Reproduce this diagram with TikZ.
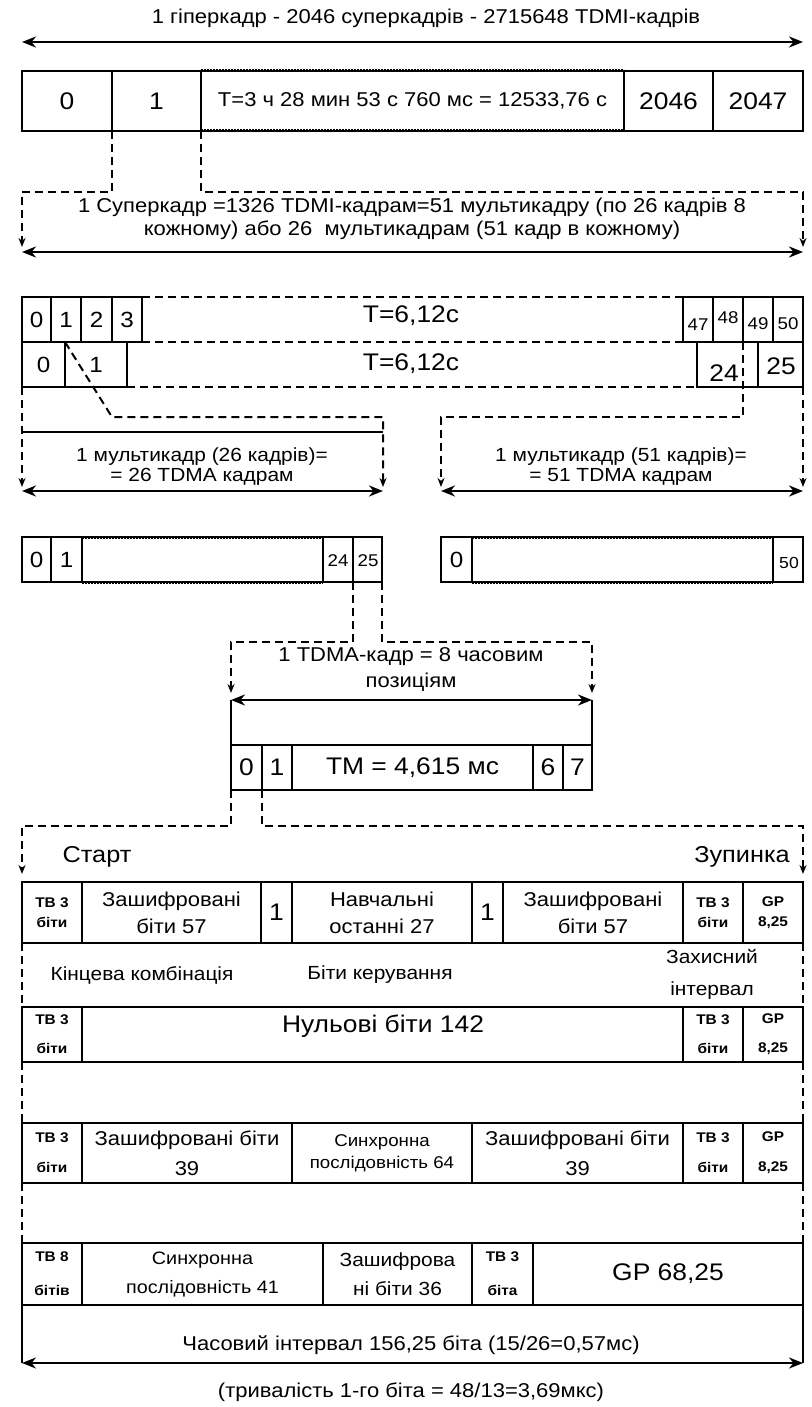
\documentclass[tikz,border=0pt]{standalone}
\usepackage{fontspec}
\setmainfont{Liberation Sans}[FakeStretch=1.1]
\usetikzlibrary{arrows.meta}
\newcommand\fsz[2]{\fontsize{#1}{#2}\selectfont}
\newcommand\cellnode[7][]{%
  \node[cell,minimum width={(#5-#3)*1pt},minimum height={(#6-#4)*1pt},#1] (#2) at ({(#3+#5)/2},{(#4+#6)/2}) {#7};}
\tikzset{
  cell/.style={draw, line width=1.5pt, inner sep=0pt, outer sep=0pt, align=center},
  txt/.style={inner sep=0pt, outer sep=0pt, align=center},
  lw/.style={line width=1.5pt},
  dline/.style={line width=2pt, dash pattern=on 8pt off 5pt},
  darr/.style={dline, -{Stealth[length=9pt,width=7pt]}},
  dotline/.style={line width=3pt, dash pattern=on 1.6pt off 1.4pt},
  biarrow/.style={line width=2.4pt, {Stealth[length=14pt,width=11pt]}-{Stealth[length=14pt,width=11pt]}},
  fb/.style={font=\fsz{20}{24}},
  fbig/.style={font=\fsz{24}{28}},
  fsm/.style={font=\fsz{14}{20}\bfseries},
}
\begin{document}
\begin{tikzpicture}[x=1pt,y=-1pt]
\useasboundingbox (0,0) rectangle (811,1407);
\fill[white] (0,0) rectangle (811,1407);

% ---------- hyperframe ----------
\node[txt,fb] (title) at (426,18) {1 гіперкадр - 2046 суперкадрів - 2715648 TDMI-кадрів};
\coordinate (a1l) at (22,42); \coordinate (a1r) at (803,42);
\draw[biarrow] (a1l) -- (a1r);

\cellnode[fbig]{h0}{22}{71}{112}{131}{0}
\cellnode[fbig]{h1}{112}{71}{201}{131}{1}
\cellnode[fb]{hT}{201}{71}{624}{131}{T=3 ч 28 мин 53 с 760 мс = 12533,76 с}
\cellnode[fbig]{h2046}{624}{71}{713}{131}{2046}
\cellnode[fbig]{h2047}{713}{71}{803}{131}{2047}
\draw[dotline] (hT.north west) -- (hT.north east);
\draw[dotline] (hT.south west) -- (hT.south east);

% ---------- superframe connectors ----------
\coordinate (sbl) at (22,192); \coordinate (sbr) at (803,192);
\coordinate (sal) at (22,247); \coordinate (sar) at (803,247);
\draw[darr] (h1.south west) |- (sbl) -- (sal);
\draw[darr] (hT.south west) |- (sbr) -- (sar);
\node[txt,font=\fsz{20}{23}] (stext) at (412,219) {1 Суперкадр =1326 TDMI-кадрам=51 мультикадру (по 26 кадрів 8\\кожному) або 26\ \ мультикадрам (51 кадр в кожному)};
\coordinate (a2l) at (22,252); \coordinate (a2r) at (803,252);
\draw[biarrow] (a2l) -- (a2r);

% ---------- superframe rows ----------
\cellnode[font=\fsz{22}{26}]{s0}{22}{297}{51}{342}{0}
\cellnode[font=\fsz{22}{26}]{s1}{51}{297}{81}{342}{1}
\cellnode[font=\fsz{22}{26}]{s2}{81}{297}{112}{342}{2}
\cellnode[font=\fsz{22}{26}]{s3}{112}{297}{142}{342}{3}
\cellnode{s47}{683}{297}{713}{342}{}
\cellnode{s48}{713}{297}{743}{342}{}
\cellnode{s49}{743}{297}{773}{342}{}
\cellnode{s50}{773}{297}{803}{342}{}
\node[txt,font=\fsz{17}{20}] (l47) at (698,325) {47};
\node[txt,font=\fsz{17}{20}] (l48) at (728,318) {48};
\node[txt,font=\fsz{17}{20}] (l49) at (758,324) {49};
\node[txt,font=\fsz{17}{20}] (l50) at (788,324) {50};
\draw[dline] (s3.north east) -- (s47.north west);
\draw[dline] (s3.south east) -- (s47.south west);
\node[txt,fbig] (sT1) at (411,316) {T=6,12с};

\cellnode[font=\fsz{22}{26}]{r0}{22}{342}{65}{387}{0}
\cellnode[font=\fsz{22}{26}]{r1}{65}{342}{127}{387}{1}
\cellnode{r24}{697}{342}{758}{387}{}
\cellnode{r25}{758}{342}{803}{387}{}
\node[txt,fbig] (l24) at (724,373) {24};
\node[txt,fbig] (l25) at (781,366) {25};
\draw[dline] (r1.south east) -- (r24.south west);
\node[txt,fbig] (sT2) at (411,364) {T=6,12с};

% ---------- multiframe connectors ----------
\coordinate (d1) at (112,417); \coordinate (d2) at (383,417);
\coordinate (d2e) at (383,487);
\coordinate (d3) at (743,417); \coordinate (d4) at (441,417);
\coordinate (d4e) at (441,487);
\coordinate (dle) at (22,487); \coordinate (dre) at (803,487);
\draw[darr] (r1.north west) -- (d1) -- (d2) -- (d2e);
\draw[darr] (s49.south west) -- (d3) -- (d4) -- (d4e);
\draw[darr] (r0.south west) -- (dle);
\draw[darr] (r25.south east) -- (dre);
\coordinate (bxl) at (22,432); \coordinate (bxr) at (383,432);
\draw[lw] (bxl) -- (bxr);
\node[txt,font=\fsz{19}{20}] (mtl) at (202,467) {1 мультикадр (26 кадрів)=\\= 26 TDMA кадрам};
\node[txt,font=\fsz{19}{20}] (mtr) at (621,467) {1 мультикадр (51 кадрів)=\\= 51 TDMA кадрам};
\coordinate (a3l) at (22,491); \coordinate (a3r) at (383,491);
\coordinate (a4l) at (441,491); \coordinate (a4r) at (803,491);
\draw[biarrow] (a3l) -- (a3r);
\draw[biarrow] (a4l) -- (a4r);

% ---------- multiframe rows ----------
\cellnode[font=\fsz{22}{26}]{m0}{22}{537}{51}{582}{0}
\cellnode[font=\fsz{22}{26}]{m1}{51}{537}{82}{582}{1}
\cellnode{mmid}{82}{537}{323}{582}{}
\cellnode{m24}{323}{537}{353}{582}{}
\cellnode{m25}{353}{537}{382}{582}{}
\node[txt,font=\fsz{17}{20}] (lm24) at (338,561) {24};
\node[txt,font=\fsz{17}{20}] (lm25) at (368,561) {25};
\draw[dotline] (mmid.north west) -- (mmid.north east);
\draw[dotline] (mmid.south west) -- (mmid.south east);

\cellnode[font=\fsz{22}{26}]{n0}{441}{537}{472}{582}{0}
\cellnode{nmid}{472}{537}{773}{582}{}
\cellnode{n50}{773}{537}{803}{582}{}
\node[txt,font=\fsz{16}{20}] (ln50) at (789,563) {50};
\draw[dotline] (nmid.north west) -- (nmid.north east);
\draw[dotline] (nmid.south west) -- (nmid.south east);

% ---------- TDMA connectors ----------
\coordinate (e1) at (353,642); \coordinate (e2) at (231,642);
\coordinate (e2e) at (231,693);
\coordinate (e3) at (382,642); \coordinate (e4) at (592,642);
\coordinate (e4e) at (592,693);
\draw[darr] (m24.south east) -- (e1) -- (e2) -- (e2e);
\draw[darr] (m25.south east) -- (e3) -- (e4) -- (e4e);
\node[txt,font=\fsz{20}{26}] (ttext) at (411,670) {1 TDMA-кадр = 8 часовим\\позиціям};
\coordinate (a5l) at (231,700); \coordinate (a5r) at (592,700);
\draw[biarrow] (a5l) -- (a5r);

% ---------- TDMA row ----------
\cellnode[fbig]{t0}{231}{745}{262}{790}{0}
\cellnode[fbig]{t1}{262}{745}{292}{790}{1}
\cellnode[fbig]{tTM}{292}{745}{533}{790}{TM = 4,615 мс}
\cellnode[fbig]{t6}{533}{745}{563}{790}{6}
\cellnode[fbig]{t7}{563}{745}{592}{790}{7}
\draw[lw] (a5l) -- (t0.north west);
\draw[lw] (a5r) -- (t7.north east);

% ---------- burst connectors ----------
\coordinate (f1) at (231,826); \coordinate (f2) at (22,826);
\coordinate (f2e) at (22,874);
\coordinate (f3) at (262,826); \coordinate (f4) at (803,826);
\coordinate (f4e) at (803,874);
\draw[darr] (t0.south west) -- (f1) -- (f2) -- (f2e);
\draw[darr] (t0.south east) -- (f3) -- (f4) -- (f4e);
\node[txt,font=\fsz{23}{26}] (start) at (97,857) {Старт};
\node[txt,font=\fsz{23}{26}] (stop) at (742,857) {Зупинка};

% ---------- burst 1 ----------
\cellnode[fsm]{b1a}{22}{882}{82}{943}{ТВ 3\\біти}
\cellnode[font=\fsz{20}{27}]{b1b}{82}{882}{261}{943}{Зашифровані\\біти 57}
\cellnode[fbig]{b1c}{261}{882}{292}{943}{1}
\cellnode[font=\fsz{20}{27}]{b1d}{292}{882}{472}{943}{Навчальні\\останні 27}
\cellnode[fbig]{b1e}{472}{882}{503}{943}{1}
\cellnode[font=\fsz{20}{27}]{b1f}{503}{882}{683}{943}{Зашифровані\\біти 57}
\cellnode[fsm]{b1g}{683}{882}{743}{943}{ТВ 3\\біти}
\cellnode[fsm]{b1h}{743}{882}{803}{943}{GP\\8,25}

\node[txt,font=\fsz{19}{24}] (lk) at (142,975) {Кінцева комбінація};
\node[txt,font=\fsz{19}{24}] (lbk) at (380,975) {Біти керування};
\node[txt,font=\fsz{19}{32}] (lzi) at (712,974) {Захисний\\інтервал};
\draw[dline] (b1a.south west) -- (22,1007);
\draw[dline] (b1h.south east) -- (803,1007);

% ---------- burst 2 ----------
\cellnode[font=\fsz{14}{29}\bfseries]{b2a}{22}{1007}{82}{1062}{ТВ 3\\біти}
\cellnode[fbig]{b2b}{82}{1007}{683}{1062}{}
\node[txt,fbig] (l142) at (383,1026) {Нульові біти 142};
\cellnode[font=\fsz{14}{29}\bfseries]{b2g}{683}{1007}{743}{1062}{ТВ 3\\біти}
\cellnode[font=\fsz{14}{29}\bfseries]{b2h}{743}{1007}{803}{1062}{GP\\8,25}
\draw[dline] (b2a.south west) -- (22,1123);
\draw[dline] (b2h.south east) -- (803,1123);

% ---------- burst 3 ----------
\cellnode[font=\fsz{14}{30}\bfseries]{b3a}{22}{1123}{82}{1183}{ТВ 3\\біти}
\cellnode[font=\fsz{20}{30}]{b3b}{82}{1123}{292}{1183}{Зашифровані біти\\39}
\cellnode[font=\fsz{17}{22}]{b3c}{292}{1123}{472}{1183}{Синхронна\\послідовність 64}
\cellnode[font=\fsz{20}{30}]{b3d}{472}{1123}{683}{1183}{Зашифровані біти\\39}
\cellnode[font=\fsz{14}{30}\bfseries]{b3g}{683}{1123}{743}{1183}{ТВ 3\\біти}
\cellnode[font=\fsz{14}{30}\bfseries]{b3h}{743}{1123}{803}{1183}{GP\\8,25}
\draw[dline] (b3a.south west) -- (22,1243);
\draw[dline] (b3h.south east) -- (803,1243);

% ---------- burst 4 ----------
\cellnode[font=\fsz{14}{34}\bfseries]{b4a}{22}{1243}{82}{1305}{ТВ 8\\бітів}
\cellnode[font=\fsz{18}{29}]{b4b}{82}{1243}{323}{1305}{Синхронна\\послідовність 41}
\cellnode[font=\fsz{19}{29}]{b4c}{323}{1243}{472}{1305}{Зашифрова\\ні біти 36}
\cellnode[font=\fsz{14}{34}\bfseries]{b4d}{472}{1243}{533}{1305}{ТВ 3\\біта}
\cellnode[font=\fsz{24}{28}]{b4e}{533}{1243}{803}{1305}{GP 68,25}

\coordinate (a6l) at (22,1363); \coordinate (a6r) at (803,1363);
\draw[lw] (b4a.south west) -- (a6l);
\draw[lw] (b4e.south east) -- (a6r);
\node[txt,fb] (ci) at (411,1345) {Часовий інтервал 156,25 біта (15/26=0,57мс)};
\draw[biarrow] (a6l) -- (a6r);
\node[txt,fb] (tb) at (411,1392) {(тривалість 1-го біта = 48/13=3,69мкс)};
\end{tikzpicture}
\end{document}
